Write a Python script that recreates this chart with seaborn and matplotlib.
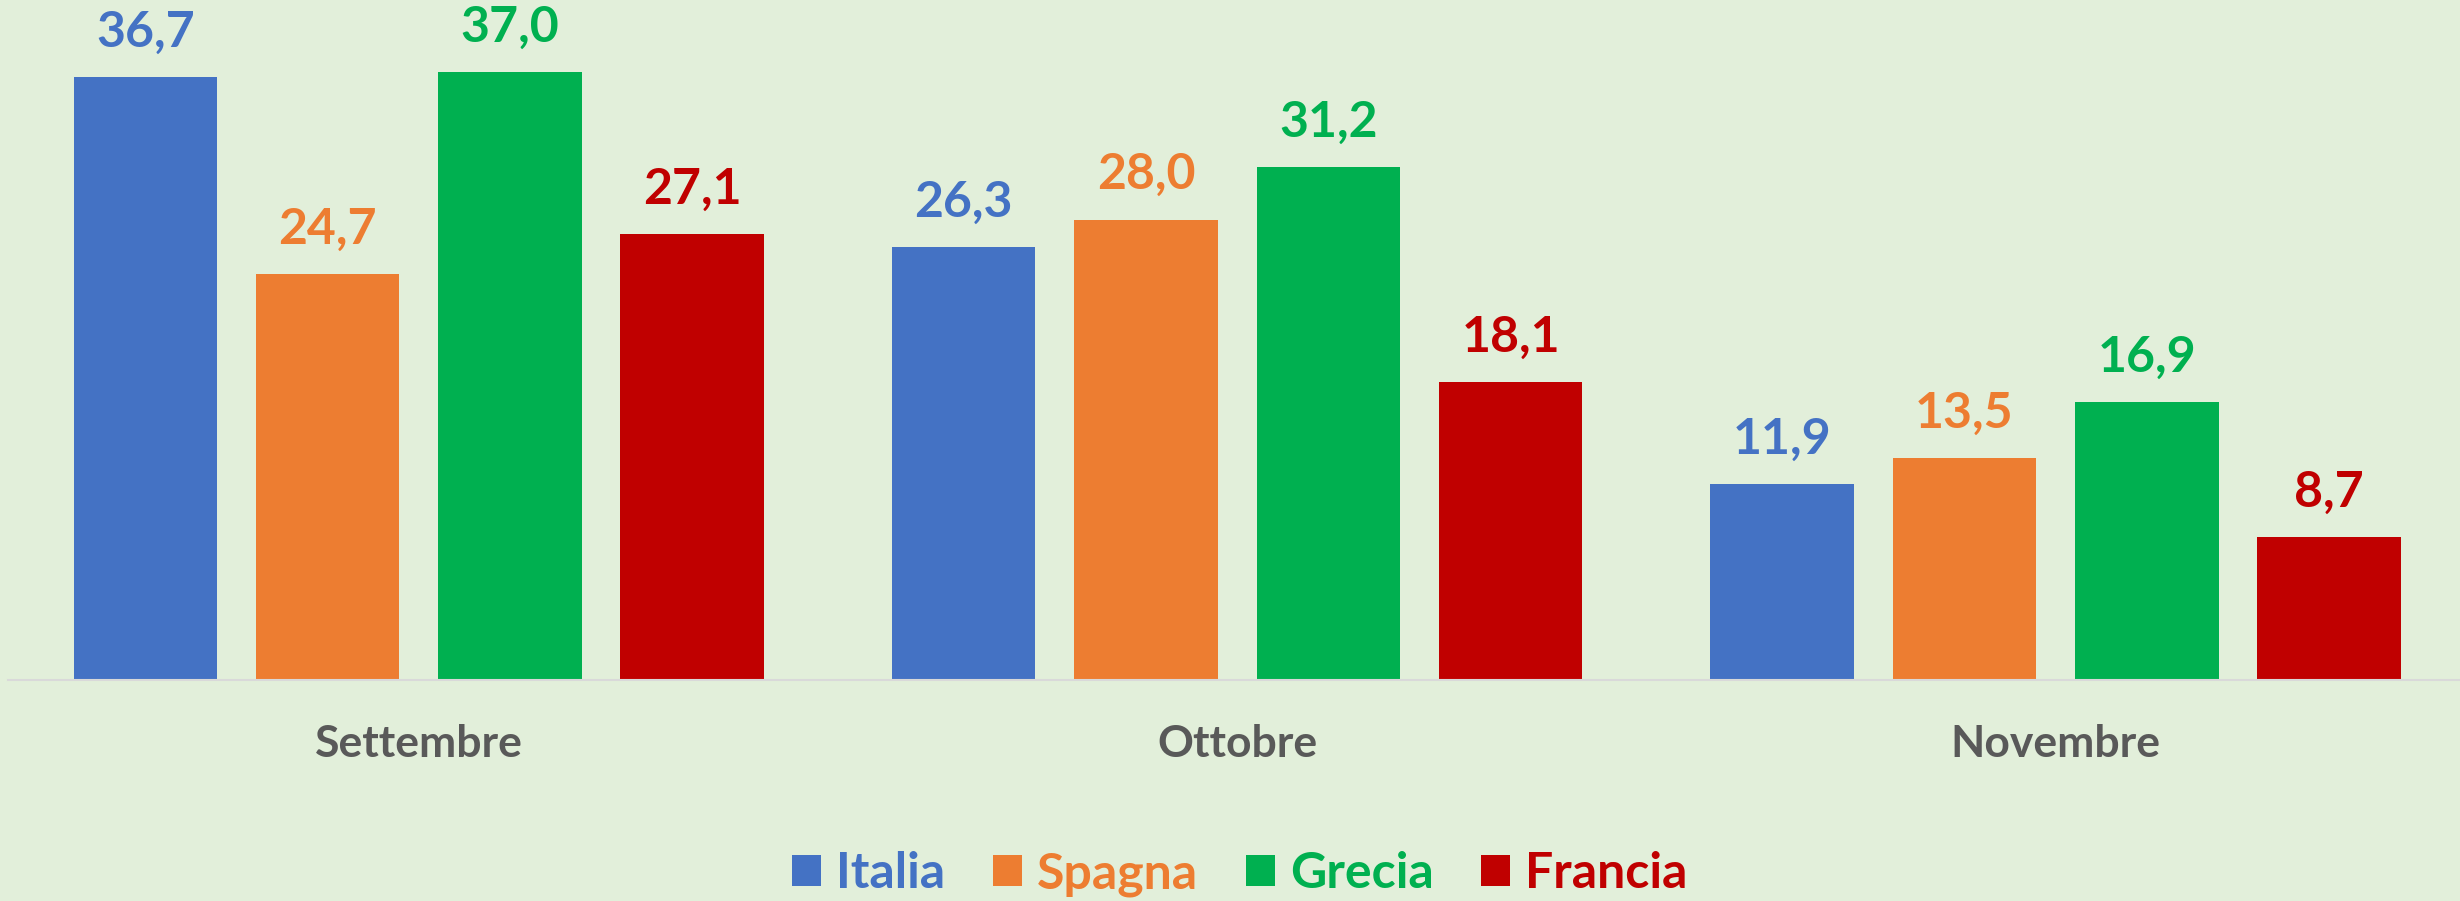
import pandas as pd
import seaborn as sns
import matplotlib.pyplot as plt
from matplotlib.patches import Rectangle

MONTHS = ["Settembre", "Ottobre", "Novembre"]
COUNTRIES = ["Italia", "Spagna", "Grecia", "Francia"]
COLORS = ["#4472C4", "#ED7D31", "#00B050", "#C00000"]
VALUES = {
    "Italia": [36.7, 26.3, 11.9],
    "Spagna": [24.7, 28.0, 13.5],
    "Grecia": [37.0, 31.2, 16.9],
    "Francia": [27.1, 18.1, 8.7],
}

BG = "#E2EFDA"
FONT = ["Lato", "DejaVu Sans"]


def build_frame() -> pd.DataFrame:
    rows = []
    for c in COUNTRIES:
        for m, v in zip(MONTHS, VALUES[c]):
            rows.append({"mese": m, "paese": c, "valore": v})
    return pd.DataFrame(rows)


def main():
    sns.set_style("white")
    plt.rcParams["font.family"] = FONT

    df = build_frame()
    fig = plt.figure(figsize=(24.6, 9.01), dpi=100, facecolor=BG)
    ax = fig.add_axes([0.0032, 0.2458, 0.9968, 0.7542])
    ax.set_facecolor(BG)

    sns.barplot(data=df, x="mese", y="valore", hue="paese", order=MONTHS,
                hue_order=COUNTRIES, palette=COLORS, saturation=1,
                width=0.891, gap=0.213, legend=False, linewidth=0, ax=ax)

    for cont, col in zip(ax.containers, COLORS):
        labels = [f"{b.get_height():.1f}".replace(".", ",") for b in cont]
        ax.bar_label(cont, labels=labels, padding=16, color=col,
                     fontsize=36, fontweight="bold")

    ax.set_xlim(-0.502, 2.494)
    ax.set_ylim(0, 41.36)
    ax.set_xlabel("")
    ax.set_ylabel("")
    ax.set_yticks([])
    ax.tick_params(axis="x", length=0, pad=32)
    for lbl in ax.get_xticklabels():
        lbl.set_fontsize(32)
        lbl.set_fontweight("bold")
        lbl.set_color("#595959")
    for side in ["top", "left", "right"]:
        ax.spines[side].set_visible(False)
    ax.spines["bottom"].set_color("#D9D9D9")
    ax.spines["bottom"].set_linewidth(1.5)

    handles = [Rectangle((0, 0), 1, 1, facecolor=c, edgecolor="none") for c in COLORS]
    leg = fig.legend(handles, COUNTRIES, loc="center", bbox_to_anchor=(0.504, 0.03),
                     ncol=4, frameon=False, handlelength=0.58, handleheight=0.58,
                     handletextpad=0.3, columnspacing=0.95,
                     prop={"family": FONT, "weight": "bold", "size": 36})
    for txt, col in zip(leg.get_texts(), COLORS):
        txt.set_color(col)

    fig.savefig("out.png", dpi=100, facecolor=BG)


if __name__ == "__main__":
    main()
